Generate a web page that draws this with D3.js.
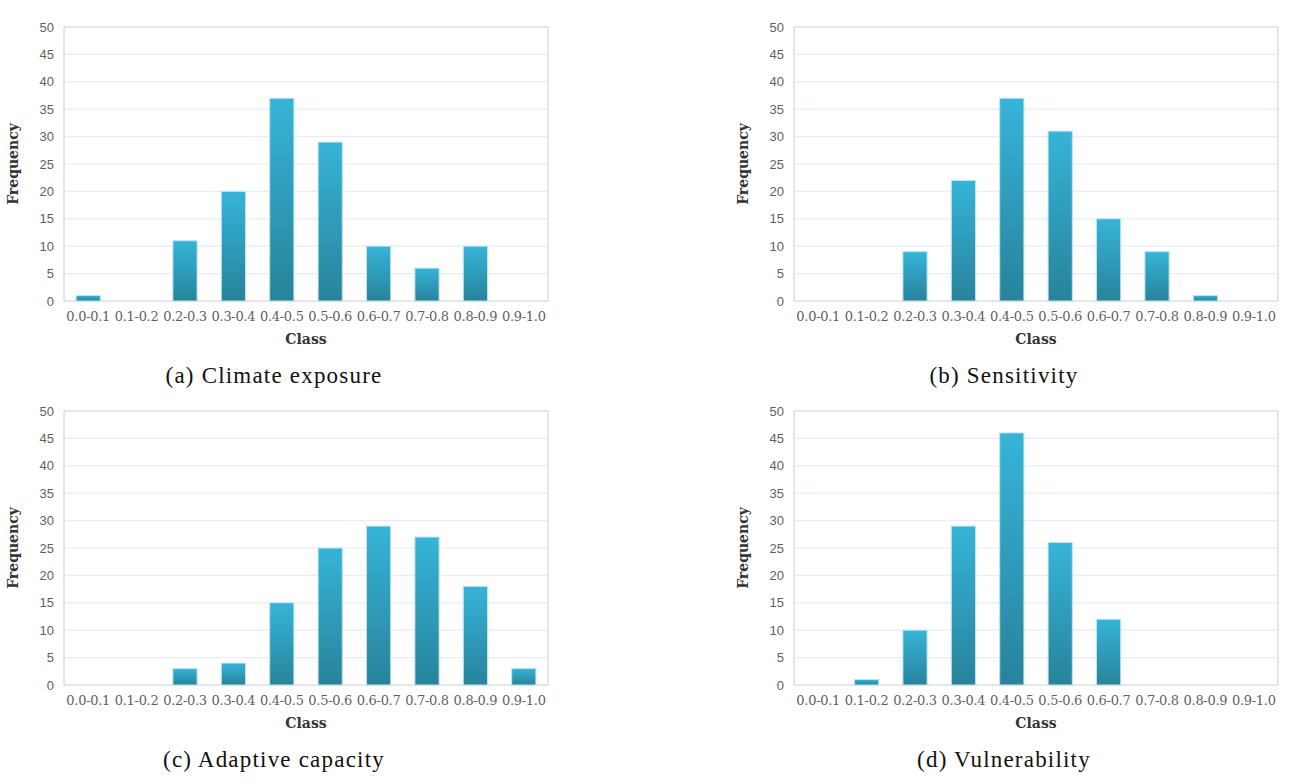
<!DOCTYPE html>
<html>
<head>
<meta charset="utf-8">
<script src="https://cdn.jsdelivr.net/npm/d3@7"></script>
<style>
  body { margin: 0; background: #fff; }
  .tick text { fill: #5f5f5f; }
</style>
</head>
<body>
<div id="chart"></div>
<script>
// Data
const classes = ['0.0-0.1','0.1-0.2','0.2-0.3','0.3-0.4','0.4-0.5','0.5-0.6','0.6-0.7','0.7-0.8','0.8-0.9','0.9-1.0']
const yTicks = [0, 5, 10, 15, 20, 25, 30, 35, 40, 45, 50]
const climateExposure = [1, 0, 11, 20, 37, 29, 10, 6, 10, 0]
const sensitivity = [0, 0, 9, 22, 37, 31, 15, 9, 1, 0]
const adaptiveCapacity = [0, 0, 3, 4, 15, 25, 29, 27, 18, 3]
const vulnerability = [0, 1, 10, 29, 46, 26, 12, 0, 0, 0]
const captions = ['(a) Climate exposure', '(b) Sensitivity', '(c) Adaptive capacity', '(d) Vulnerability']

const panels = [
  { values: climateExposure, caption: captions[0], x: 64, y: 27 },
  { values: sensitivity, caption: captions[1], x: 794, y: 27 },
  { values: adaptiveCapacity, caption: captions[2], x: 64, y: 411 },
  { values: vulnerability, caption: captions[3], x: 794, y: 411 },
]

const dims = { ctrWidth: 484, ctrHeight: 274 }

const svg = d3.select('#chart')
  .append('svg')
  .attr('width', 1296)
  .attr('height', 784)

const defs = svg.append('defs')
const grad = defs.append('linearGradient')
  .attr('id', 'barGrad')
  .attr('x1', 0).attr('y1', 0).attr('x2', 0).attr('y2', 1)
grad.append('stop').attr('offset', '0%').attr('stop-color', '#36b4d8')
grad.append('stop').attr('offset', '100%').attr('stop-color', '#28839b')

const xScale = d3.scaleBand()
  .domain(classes)
  .range([0, dims.ctrWidth])
  .paddingInner(0.5)
  .paddingOuter(0.25)

const yScale = d3.scaleLinear()
  .domain([0, 50])
  .range([dims.ctrHeight, 0])

panels.forEach(p => {
  const ctr = svg.append('g')
    .attr('transform', `translate(${p.x}, ${p.y})`)

  // gridlines
  ctr.append('g')
    .selectAll('line')
    .data(yTicks.filter(t => t > 0 && t < 50))
    .join('line')
    .attr('x1', 0)
    .attr('x2', dims.ctrWidth)
    .attr('y1', d => yScale(d))
    .attr('y2', d => yScale(d))
    .attr('stroke', '#e4edf8')
    .attr('stroke-width', 1.2)

  // frame
  ctr.append('rect')
    .attr('width', dims.ctrWidth)
    .attr('height', dims.ctrHeight)
    .attr('fill', 'none')
    .attr('stroke', '#cfcfcf')
    .attr('stroke-width', 1)

  // bars
  ctr.append('g')
    .selectAll('rect')
    .data(p.values.map((v, i) => ({ cls: classes[i], v })).filter(d => d.v > 0))
    .join('rect')
    .attr('x', d => xScale(d.cls))
    .attr('width', xScale.bandwidth())
    .attr('y', d => yScale(d.v))
    .attr('height', d => dims.ctrHeight - yScale(d.v))
    .attr('fill', 'url(#barGrad)')
    .attr('stroke', '#bfe3ef')
    .attr('stroke-width', 1)

  // axes
  const yAxis = d3.axisLeft(yScale).tickValues(yTicks).tickSize(0).tickPadding(10)
  ctr.append('g')
    .call(yAxis)
    .call(g => g.select('.domain').remove())
    .selectAll('text')
    .style('font-family', 'Liberation Sans, Arial, sans-serif')
    .style('font-size', '13px')

  const xAxis = d3.axisBottom(xScale).tickSize(0).tickPadding(11)
  ctr.append('g')
    .attr('transform', `translate(0, ${dims.ctrHeight})`)
    .call(xAxis)
    .call(g => g.select('.domain').remove())
    .selectAll('text')
    .style('font-family', 'DejaVu Serif, serif')
    .style('font-size', '13px')
    .style('letter-spacing', '-0.3px')

  // axis titles
  ctr.append('text')
    .attr('transform', `translate(-46, ${dims.ctrHeight / 2}) rotate(-90)`)
    .attr('text-anchor', 'middle')
    .style('font-family', 'DejaVu Serif, serif')
    .style('font-weight', 'bold')
    .style('font-size', '14px')
    .attr('fill', '#333')
    .text('Frequency')

  ctr.append('text')
    .attr('x', dims.ctrWidth / 2)
    .attr('y', dims.ctrHeight + 43)
    .attr('text-anchor', 'middle')
    .style('font-family', 'DejaVu Serif, serif')
    .style('font-weight', 'bold')
    .style('font-size', '14px')
    .attr('fill', '#333')
    .text('Class')

  // caption
  ctr.append('text')
    .attr('x', dims.ctrWidth / 2 - 32)
    .attr('y', dims.ctrHeight + 82)
    .attr('text-anchor', 'middle')
    .style('font-family', 'Liberation Serif, serif')
    .style('font-size', '23px')
    .style('letter-spacing', '1.2px')
    .attr('fill', '#111')
    .text(p.caption)
})
</script>
</body>
</html>
